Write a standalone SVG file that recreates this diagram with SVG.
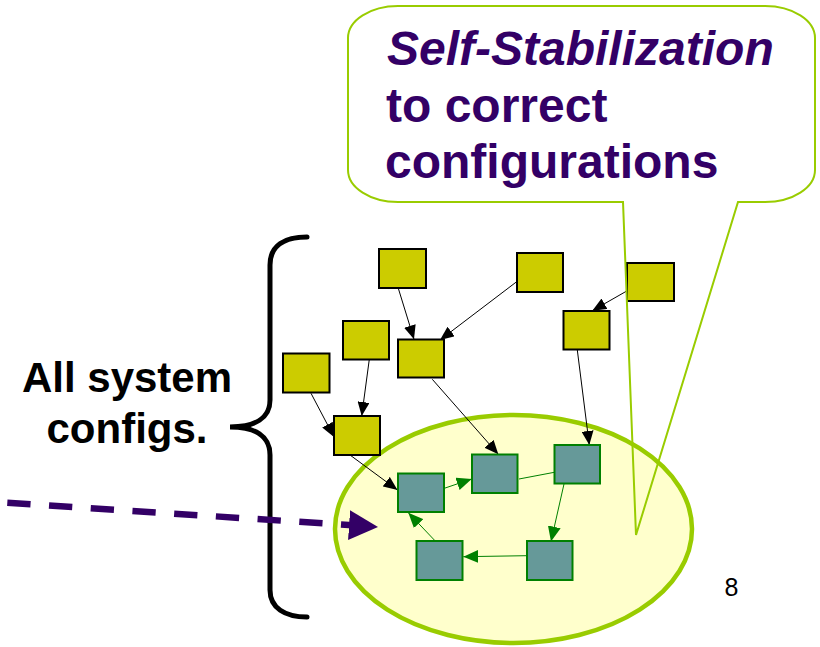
<svg xmlns="http://www.w3.org/2000/svg" width="820" height="647" viewBox="0 0 820 647">
  <style>
    .cfg { fill: #CCCC00; stroke: #000000; stroke-width: 2; }
    .ok { fill: #669999; stroke: #008000; stroke-width: 2; }
    .e-black { stroke: #000000; stroke-width: 1; fill: none; marker-end: url(#ah-black); }
    .e-green { stroke: #008000; stroke-width: 1; fill: none; }
    .e-green.arr { marker-end: url(#ah-green); }
    .lbl { font-family: "Liberation Sans", Arial, sans-serif; font-weight: bold; }
  </style>
  <defs>
    <marker id="ah-black" markerUnits="userSpaceOnUse" markerWidth="14" markerHeight="12" refX="14" refY="6" orient="auto">
      <path d="M0,0 L14,6 L0,12 z" fill="#000000"/>
    </marker>
    <marker id="ah-green" markerUnits="userSpaceOnUse" markerWidth="15" markerHeight="13" refX="15" refY="6.5" orient="auto">
      <path d="M0,0 L15,6.5 L0,13 z" fill="#008000"/>
    </marker>
    <marker id="ah-purple" markerUnits="userSpaceOnUse" markerWidth="30" markerHeight="30" refX="29" refY="15" orient="auto">
      <path d="M0,0 L29,15 L0,30 z" fill="#330066"/>
    </marker>
  </defs>

  <rect width="820" height="647" fill="#FFFFFF"/>

  <!-- set of legitimate configurations -->
  <ellipse id="legit-set" cx="513.5" cy="529" rx="178.5" ry="114" fill="#FFFFCC" stroke="#99CC00" stroke-width="4.5"/>

  <!-- brace spanning all configurations -->
  <path id="brace" d="M307,237 C285,237 270,245 270,265 L270,400 C270,418 255,427 230,427 C255,427 270,436 270,455 L270,590 C270,608 285,617 307,617" fill="none" stroke="#000000" stroke-width="5" stroke-linecap="round"/>

  <g id="brace-label" class="lbl" font-size="42" fill="#000000" text-anchor="middle">
    <text x="127" y="392">All system</text>
    <text x="127" y="443">configs.</text>
  </g>

  <!-- transitions -->
  <g id="connectors">
    <line class="e-black" x1="398.3" y1="288.3" x2="414" y2="339.3"/>
    <line class="e-black" x1="516.7" y1="281.7" x2="440" y2="340"/>
    <line class="e-black" x1="627.3" y1="290.7" x2="592.3" y2="310.7"/>
    <line class="e-black" x1="369.3" y1="359.3" x2="361.7" y2="416"/>
    <line class="e-black" x1="311" y1="393.3" x2="334" y2="437"/>
    <line class="e-black" x1="432.3" y1="379.3" x2="498.3" y2="454.3"/>
    <line class="e-black" x1="577.3" y1="350" x2="589.3" y2="445"/>
    <line class="e-black" x1="350" y1="455" x2="397.5" y2="490"/>

    <line class="e-green arr" x1="444.3" y1="488.3" x2="471.7" y2="479"/>
    <line class="e-green" x1="519" y1="479" x2="554.3" y2="472.3"/>
    <line class="e-green arr" x1="564" y1="484" x2="551" y2="541.5"/>
    <line class="e-green arr" x1="526.7" y1="555.7" x2="463.3" y2="556.7"/>
    <line class="e-green arr" x1="434.3" y1="540" x2="408.3" y2="512.7"/>

    <!-- fault entering the set -->
    <path id="fault-arrow" d="M7.3,502.7 L378,527" fill="none" stroke="#330066" stroke-width="6.5" stroke-dasharray="23.3 18.5" marker-end="url(#ah-purple)"/>
  </g>

  <!-- arbitrary configurations -->
  <g id="c1"><rect class="cfg" x="379" y="249" width="47" height="39"/></g>
  <g id="c2"><rect class="cfg" x="517" y="253" width="46" height="39"/></g>
  <g id="c3"><rect class="cfg" x="627" y="263" width="47" height="38"/></g>
  <g id="c4"><rect class="cfg" x="563.5" y="311" width="46" height="38.5"/></g>
  <g id="c5"><rect class="cfg" x="343" y="321" width="46" height="38.5"/></g>
  <g id="c6"><rect class="cfg" x="398" y="339.5" width="46" height="38"/></g>
  <g id="c7"><rect class="cfg" x="283" y="353.5" width="46.5" height="39"/></g>
  <g id="c8"><rect class="cfg" x="334" y="416" width="46" height="39"/></g>

  <!-- legitimate configurations -->
  <g id="l1"><rect class="ok" x="398" y="473.5" width="46" height="38.5"/></g>
  <g id="l2"><rect class="ok" x="472" y="454.5" width="45.5" height="38.5"/></g>
  <g id="l3"><rect class="ok" x="554.5" y="445" width="45.5" height="38.5"/></g>
  <g id="l4"><rect class="ok" x="527" y="541" width="45.5" height="39"/></g>
  <g id="l5"><rect class="ok" x="416.5" y="541" width="46" height="39"/></g>

  <!-- callout -->
  <g id="callout">
    <path d="M398,6 L765,6 A50,32 0 0 1 815,38 L815,170 A50,32 0 0 1 765,202 L738,202 L636,535 L623,202 L398,202 A50,32 0 0 1 348,170 L348,38 A50,32 0 0 1 398,6 Z" fill="none" stroke="#99CC00" stroke-width="2"/>
    <g class="lbl" font-size="48" fill="#330066">
      <text x="387" y="65" font-style="italic">Self-Stabilization</text>
      <text x="386" y="122">to correct</text>
      <text x="385" y="178">configurations</text>
    </g>
  </g>

  <text id="page-num" x="731.5" y="596" font-family="Liberation Sans, Arial, sans-serif" font-size="25" fill="#000000" text-anchor="middle">8</text>
</svg>
